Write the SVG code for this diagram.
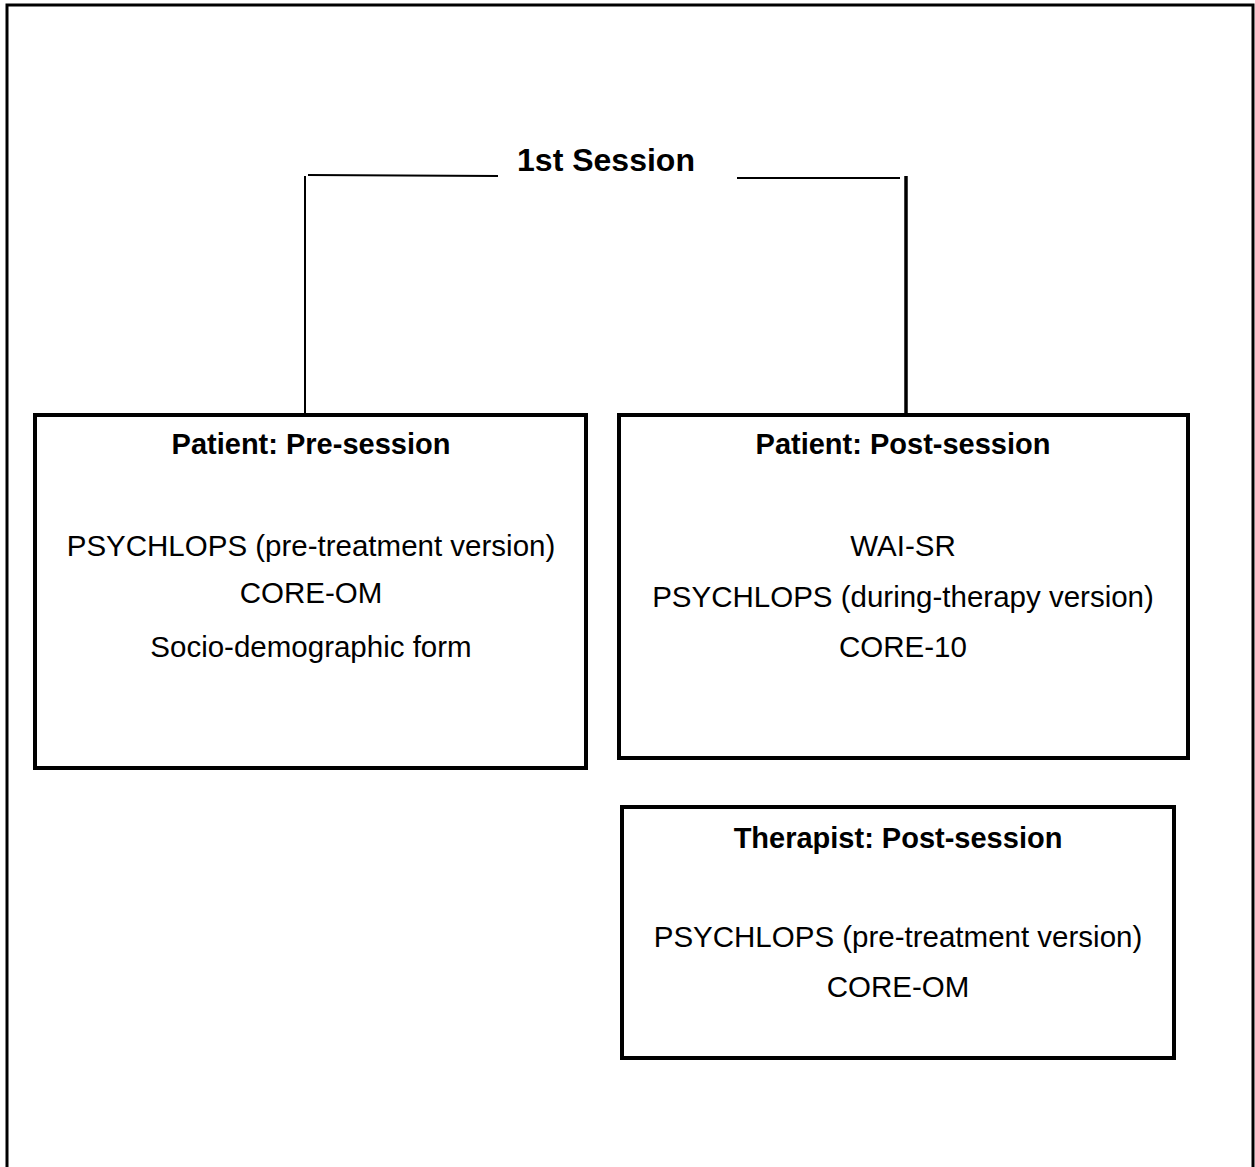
<svg xmlns="http://www.w3.org/2000/svg" width="1255" height="1167" viewBox="0 0 1255 1167">
<style>
.box{fill:#fff;stroke:#000;stroke-width:4}
.title{font-family:"Liberation Sans",Arial,sans-serif;font-weight:bold;font-size:29px;text-anchor:middle;fill:#000}
.item{font-family:"Liberation Sans",Arial,sans-serif;font-size:29.5px;text-anchor:middle;fill:#000}
.head{font-family:"Liberation Sans",Arial,sans-serif;font-weight:bold;font-size:32px;text-anchor:middle;fill:#000}
.ln{stroke:#000;fill:none}
</style>
<rect width="1255" height="1167" fill="#fff"/>
<path d="M7,1167 V5 H1253 V1167" fill="none" stroke="#000" stroke-width="3"/>
<g id="session">
<text class="head" x="606" y="171">1st Session</text>
</g>
<g id="connectors">
<line class="ln" x1="308" y1="175" x2="498" y2="176" stroke-width="2"/>
<line class="ln" x1="737" y1="178" x2="900" y2="178" stroke-width="2"/>
<line class="ln" x1="305" y1="176" x2="305" y2="415" stroke-width="2"/>
<line class="ln" x1="906" y1="176" x2="906" y2="415" stroke-width="3.5"/>
</g>
<g id="patient-pre">
<rect class="box" x="35" y="415" width="551" height="353"/>
<text class="title" x="311" y="454">Patient: Pre-session</text>
<text class="item" x="311" y="556">PSYCHLOPS (pre-treatment version)</text>
<text class="item" x="311" y="603">CORE-OM</text>
<text class="item" x="311" y="657">Socio-demographic form</text>
</g>
<g id="patient-post">
<rect class="box" x="619" y="415" width="569" height="343"/>
<text class="title" x="903" y="454">Patient: Post-session</text>
<text class="item" x="903" y="556">WAI-SR</text>
<text class="item" x="903" y="607">PSYCHLOPS (during-therapy version)</text>
<text class="item" x="903" y="657">CORE-10</text>
</g>
<g id="therapist-post">
<rect class="box" x="622" y="807" width="552" height="251"/>
<text class="title" x="898" y="848">Therapist: Post-session</text>
<text class="item" x="898" y="947">PSYCHLOPS (pre-treatment version)</text>
<text class="item" x="898" y="997">CORE-OM</text>
</g>
</svg>
